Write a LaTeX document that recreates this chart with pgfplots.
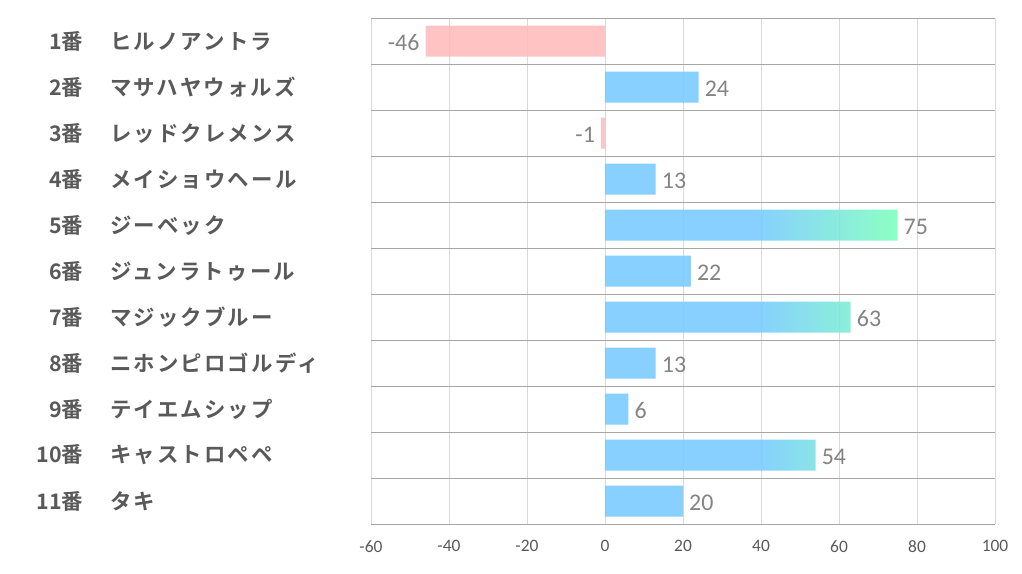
\documentclass[border=0pt]{standalone}
\usepackage{pgfplots}
\pgfplotsset{compat=1.18}
\usepackage{fontspec}
\setmainfont{Carlito}
\newfontfamily\cjk{Noto Sans CJK JP}[BoldFont={Noto Sans CJK JP Bold}]
\newfontfamily\cjkname{Noto Sans CJK JP}[BoldFont={Noto Sans CJK JP Bold}, LetterSpace=10]

\definecolor{barblue}{HTML}{7ACBFF}
\definecolor{bargreen}{HTML}{80FFBF}
\definecolor{barpink}{HTML}{FFBCBE}
\definecolor{labgray}{HTML}{595959}
\definecolor{valgray}{HTML}{767676}
\definecolor{vgrid}{HTML}{D9D9D9}
\definecolor{hgrid}{HTML}{A6A6A6}

% solid blue for the first half of the bar, then blue -> green
\pgfdeclarehorizontalshading{bluegreen}{100bp}{color(0bp)=(barblue); color(51bp)=(barblue); color(75bp)=(bargreen); color(100bp)=(bargreen)}

\newcommand\lab[2]{\makebox[47bp][r]{#1}\hspace{27bp}{\cjkname\bfseries #2}}

\begin{document}
\begin{tikzpicture}
\useasboundingbox (0,0) rectangle (1022bp,574bp);
\begin{axis}[
  at={(371bp,50bp)}, anchor=south west,
  scale only axis, width=624bp, height=506bp,
  xbar, bar shift=0pt, bar width=31bp,
  xmin=-60, xmax=100,
  ymin=-0.5, ymax=10.5, y dir=reverse,
  xtick={-60,-40,...,100},
  ytick={0,...,10},
  yticklabels={
    {\lab{1番}{ヒルノアントラ}},
    {\lab{2番}{マサハヤウォルズ}},
    {\lab{3番}{レッドクレメンス}},
    {\lab{4番}{メイショウヘール}},
    {\lab{5番}{ジーベック}},
    {\lab{6番}{ジュンラトゥール}},
    {\lab{7番}{マジックブルー}},
    {\lab{8番}{ニホンピロゴルディ}},
    {\lab{9番}{テイエムシップ}},
    {\lab{10番}{キャストロペペ}},
    {\lab{11番}{タキ}}},
  extra y ticks={-0.5,0.5,...,10.5},
  extra y tick labels={},
  extra y tick style={ymajorgrids=true, major grid style={hgrid, line width=1pt}},
  major tick length=0pt,
  xmajorgrids, major grid style={vgrid, line width=0.8pt},
  axis line style={draw=none},
  yticklabel style={anchor=west, inner sep=0pt, xshift=-335bp,
    font=\cjk\bfseries\fontsize{21.5}{21.5}\selectfont, text=labgray},
  xticklabel style={font=\fontsize{17.5}{17.5}\selectfont, text=labgray, yshift=-13bp},
  /pgf/number format/assume math mode=true,
  point meta=x,
  nodes near coords,
  nodes near coords style={font=\fontsize{24}{24}\selectfont, text=valgray, inner sep=6bp, yshift=-2bp},
]
\addplot[draw=none, fill=barpink, fill opacity=0.9] coordinates {(-46,0) (-1,2)};
\addplot[draw=none, fill=barblue, fill opacity=0.9] coordinates {(24,1) (13,3) (22,5) (13,7) (6,8) (20,10)};
\addplot[draw=none, shading=bluegreen, fill opacity=0.9] coordinates {(75,4) (63,6) (54,9)};
\end{axis}
\end{tikzpicture}
\end{document}
